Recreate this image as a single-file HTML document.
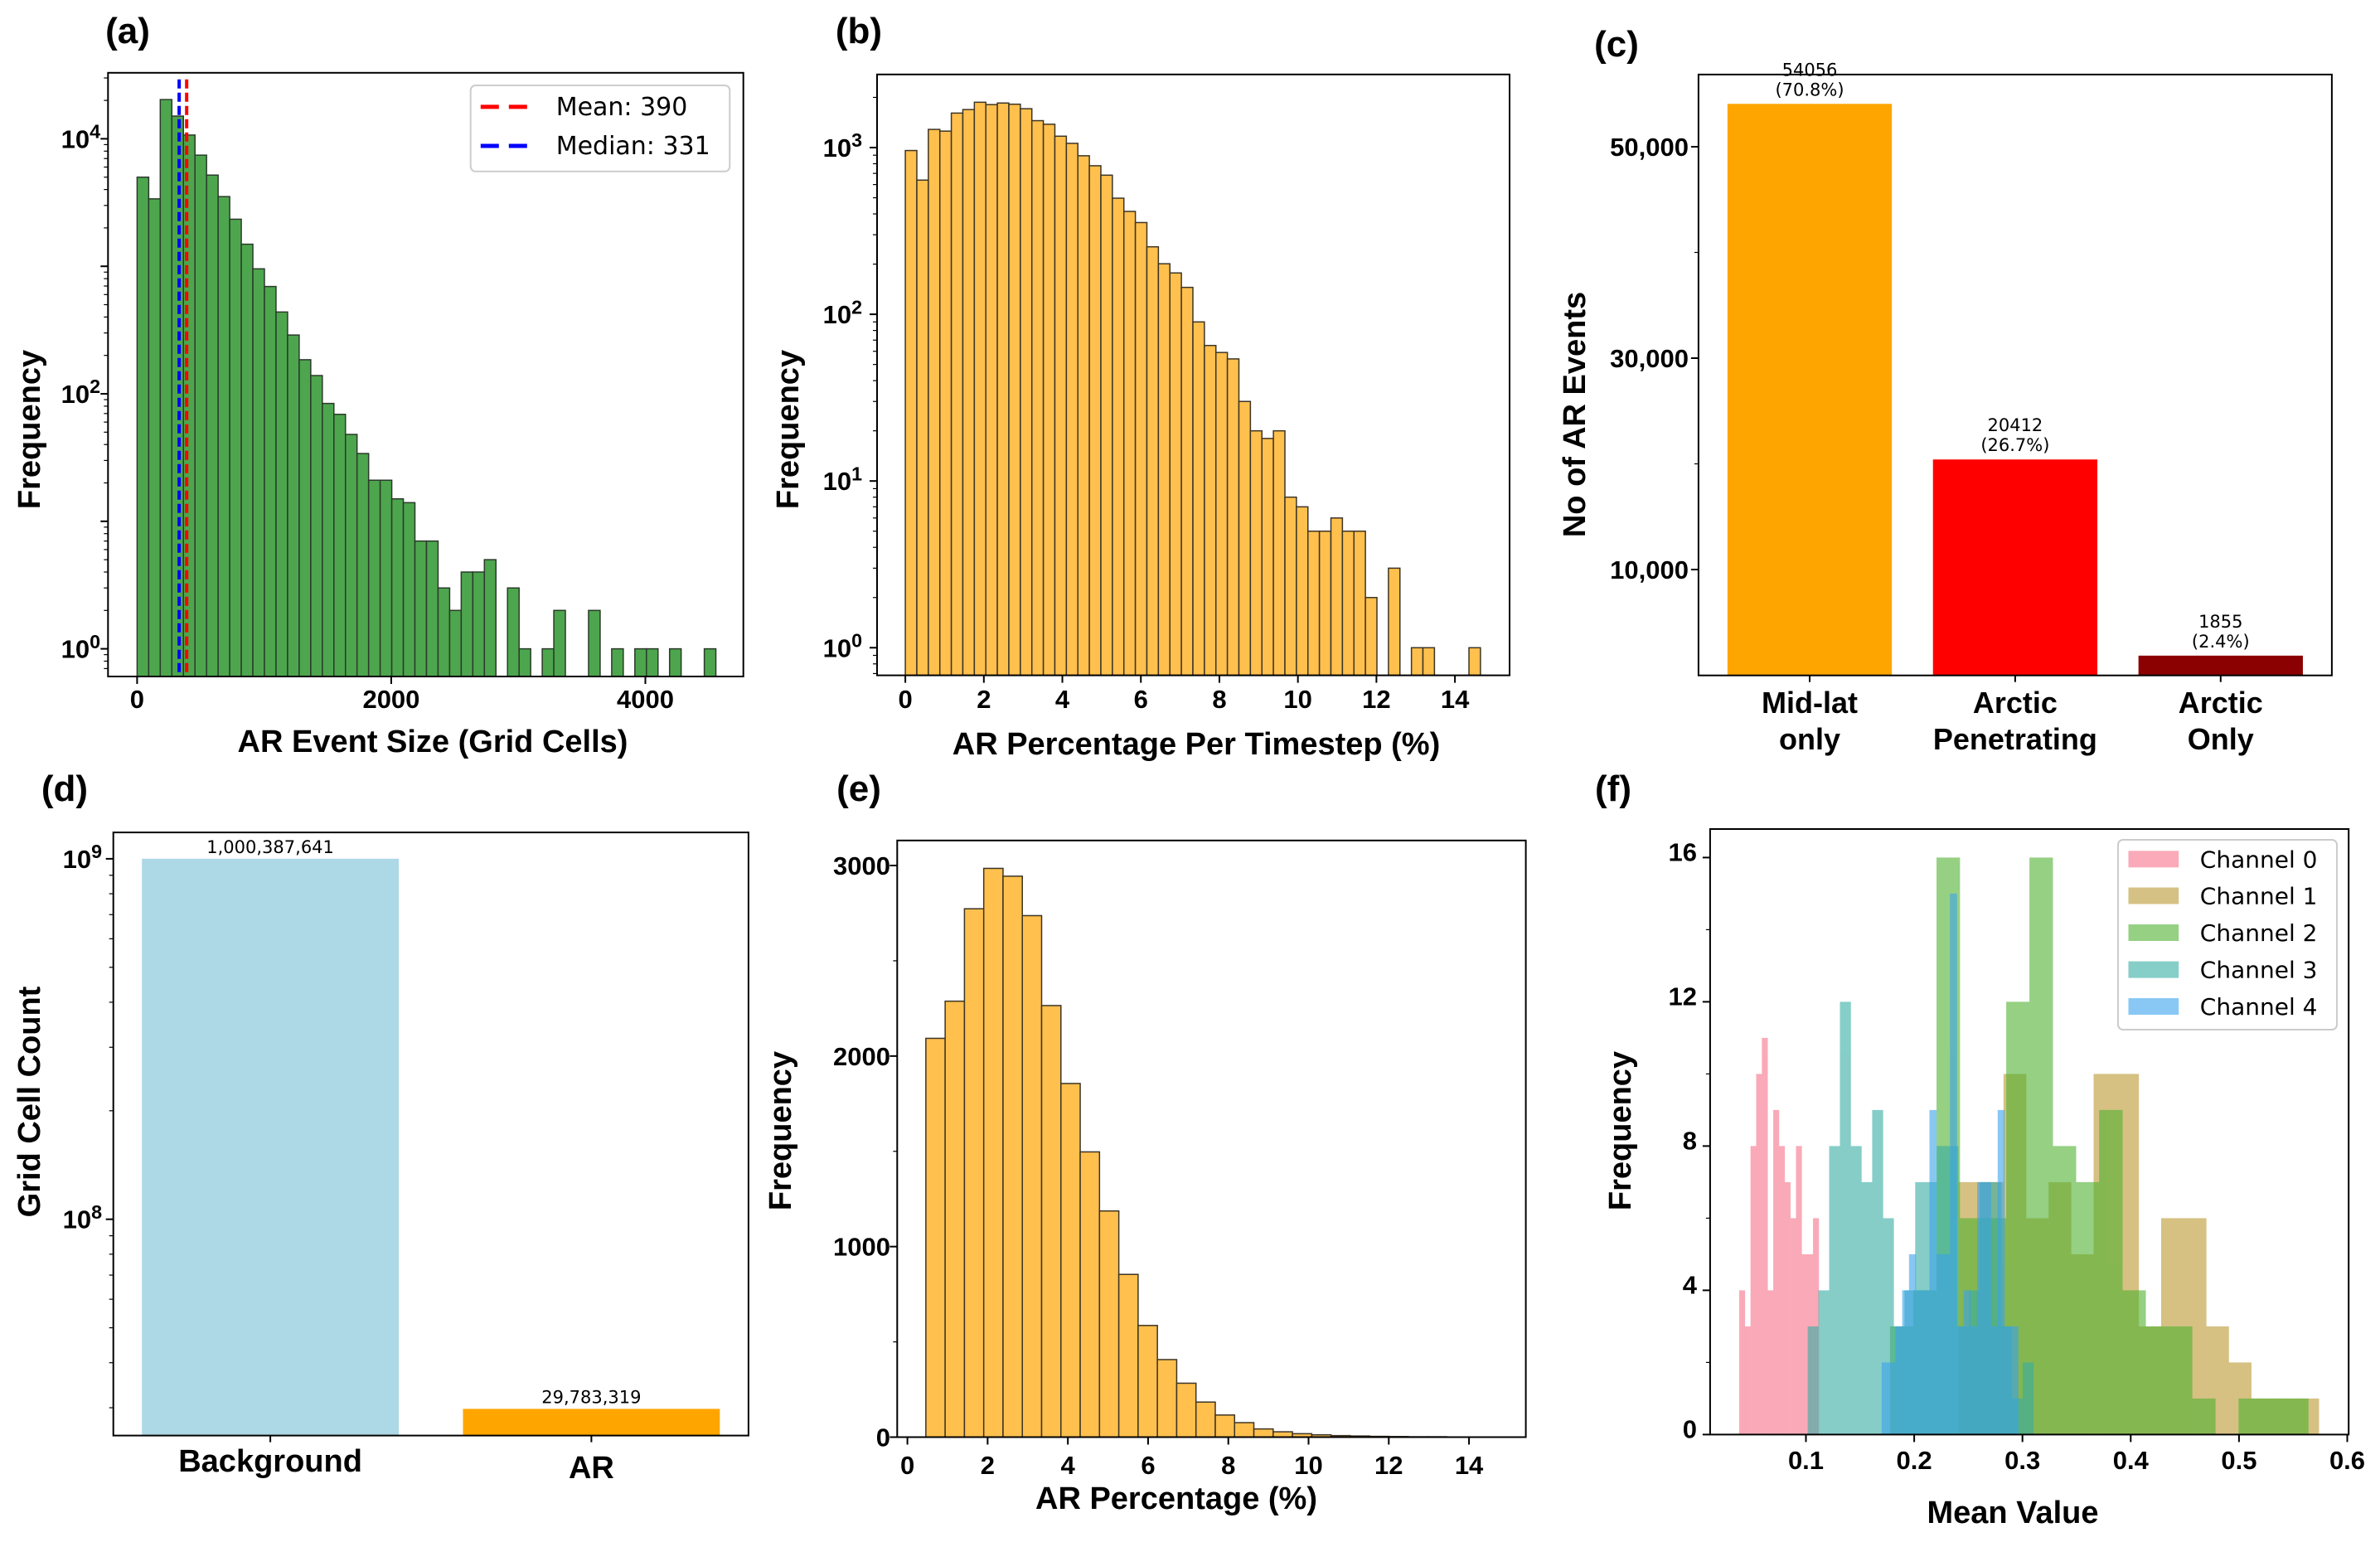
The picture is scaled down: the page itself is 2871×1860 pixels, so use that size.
<!DOCTYPE html>
<html><head><meta charset="utf-8"><style>
html,body{margin:0;padding:0;background:#fff;}
svg{display:block;}
</style></head><body>
<svg id="fig" xmlns="http://www.w3.org/2000/svg" width="2871" height="1860" viewBox="0 0 2871 1860"></svg>
<script>
// ---------- Data ----------
const aBinStart = 0, aBinWidth = 91.1;
const aCounts = [5000,3380,20300,15060,10700,7440,5190,3520,2340,1490,955,694,438,289,185,139,84,69,48,34,21,21,15,14,7,7,3,2,4,4,5,0,3,1,0,1,2,0,0,2,0,1,0,1,1,0,1,0,0,1];
const aXTicks = [0,2000,4000];
const aMean = 390, aMedian = 331;
const bBinStart = 0, bBinWidth = 0.293;
const bCounts = [960,638,1285,1255,1610,1690,1870,1810,1850,1820,1710,1450,1380,1170,1060,893,778,683,497,414,355,254,201,177,145,90,65,59,54,30,20,18,20,8,7,5,5,6,5,5,2,0,3,0,1,1,0,0,0,1];
const bXTicks = [0,2,4,6,8,10,12,14];
const cCategories = [["Mid-lat","only"],["Arctic","Penetrating"],["Arctic","Only"]];
const cValues = [54056,20412,1855];
const cPercent = ["(70.8%)","(26.7%)","(2.4%)"];
const cColors = ["#ffa500","#ff0000","#8b0000"];
const cYTicks = [10000,30000,50000];
const cYMinor = [20000,40000];
const dCategories = ["Background","AR"];
const dValues = [1000387641,29783319];
const dLabels = ["1,000,387,641","29,783,319"];
const eBinStart = 0.46, eBinWidth = 0.481;
const eCounts = [2093,2288,2773,2985,2944,2737,2265,1856,1497,1187,854,586,407,283,184,116,76,43,28,18,12,8,6,4,3,2,2,1,1,1];
const eXTicks = [0,2,4,6,8,10,12,14];
const eYTicks = [0,1000,2000,3000];
const fCh0Start = 0.0383, fCh0Width = 0.00525;
const fCh0 = [4,3,8,10,11,4,9,8,7,6,8,5,5,6];
const fCh1Start = 0.2409, fCh1Width = 0.0208;
const fCh1 = [7,7,10,6,7,5,10,10,3,6,6,3,2,1,1,1];
const fCh2Start = 0.1777, fCh2Width = 0.02146;
const fCh2 = [3,4,16,6,6,12,16,8,7,9,4,3,3,1,0,1,1,1];
const fCh3Start = 0.1016, fCh3Width = 0.00993;
const fCh3 = [3,4,8,12,8,7,9,6,3,4,7,7,8,8,3,4,7,7,3,1,2];
const fCh4Start = 0.170, fCh4Width = 0.0063;
const fCh4 = [2,2,3,4,5,4,4,9,5,5,15,3,4,3,7,7,3,9,3,3];
const fXTicks = [0.1,0.2,0.3,0.4,0.5,0.6];
const fYTicks = [0,4,8,12,16];

// ---------- Helpers ----------
const NS = "http://www.w3.org/2000/svg";
const svg = document.getElementById('fig');
function mk(tag, attrs, parent){
  const el = document.createElementNS(NS, tag);
  for (const k in attrs) el.setAttribute(k, attrs[k]);
  (parent||svg).appendChild(el);
  return el;
}
const SANS = '"Liberation Sans", "DejaVu Sans", sans-serif';
const DEJ = '"DejaVu Sans", "Liberation Sans", sans-serif';
function txt(x, y, s, size, weight, anchor, name, family, parent){
  const el = mk('text', {x:x, y:y, 'font-size':size, 'font-weight':weight, 'text-anchor':anchor, 'font-family':family||SANS, fill:'#000'}, parent);
  el.textContent = s;
  
  
  return el;
}
function supTxt(x, y, base, exp, size, name, parent){
  const el = mk('text', {x:x, y:y, 'font-size':size, 'font-weight':'bold', 'text-anchor':'end', 'font-family':SANS, fill:'#000'}, parent);
  
  
  const t1 = document.createElementNS(NS,'tspan'); t1.textContent = base; el.appendChild(t1);
  const t2 = document.createElementNS(NS,'tspan'); t2.textContent = exp;
  t2.setAttribute('dy', -size*0.38); t2.setAttribute('font-size', size*0.75); el.appendChild(t2);
  return el;
}
function line(x1,y1,x2,y2,stroke,w,parent){
  return mk('line',{x1:x1,y1:y1,x2:x2,y2:y2,stroke:stroke,'stroke-width':w},parent);
}
function frame(L,T,R,B,name){
  const r = mk('rect',{x:L,y:T,width:R-L,height:B-T,fill:'none',stroke:'#000','stroke-width':2});
  
  
}
function vtitle(x, y, s, name){
  const el = txt(x, y, s, 38, 'bold', 'middle', name);
  el.setAttribute('transform', 'rotate(-90 '+x+' '+y+')');
  return el;
}
function logMinor(g, L, yfun, lo, hi, name){
  for (let d = lo; d <= hi; d++){
    for (let m = 1; m <= 9; m++){
      const v = m*Math.pow(10,d);
      const y = yfun(v);
      if (y === null) continue;
      const t = line(L, y, L-(m===1?9:5), y, '#000', m===1?2:1.2, g);
      
      
    }
  }
}

// ---------- Panel (a) ----------
(function(){
  const L=130.3, R=896.7, T=87.8, B=816;
  const g = mk('g',{});  
  const xA = v => 165.4 + v*(778.5-165.4)/4000;
  const yA = c => { const y = 782.6 - Math.log10(c)*153.8; return (y<T||y>B)?null:y; };
  aCounts.forEach((c,i)=>{
    if (c<=0) return;
    const x0 = xA(aBinStart+i*aBinWidth), x1 = xA(aBinStart+(i+1)*aBinWidth);
    const y = Math.max(T, 782.6 - Math.log10(c)*153.8);
    const r = mk('rect',{x:x0,y:y,width:x1-x0,height:B-y,fill:'#4da64d',stroke:'#2b3a2b','stroke-width':1.5},g);
    
    
  });
  const dash = {'stroke-dasharray':'11,5'};
  const lm = mk('line',Object.assign({x1:xA(aMean),y1:T+8,x2:xA(aMean),y2:B,stroke:'#ff0000','stroke-width':4},dash),g);
  
  
  const ld = mk('line',Object.assign({x1:xA(aMedian),y1:T+8,x2:xA(aMedian),y2:B,stroke:'#0000ff','stroke-width':4},dash),g);
  
  
  frame(L,T,R,B,'axes-frame-a');
  aXTicks.forEach(v=>{
    const t=line(xA(v),B,xA(v),B+9,'#000',2,g);
     
    txt(xA(v), 854, String(v), 31, 'bold', 'middle', 'x-tick-label', SANS, g);
  });
  logMinor(g, L, yA, -1, 4, 'y-tick');
  [0,2,4].forEach(e=>supTxt(121, 782.6-e*153.8+11, '10', String(e), 31, 'y-tick-label', g));
  txt(522, 907, 'AR Event Size (Grid Cells)', 38, 'bold', 'middle', 'x-axis-title', SANS, g);
  vtitle(48, 518, 'Frequency', 'y-axis-title');
  txt(154, 52, '(a)', 44, 'bold', 'middle', 'panel-label-a', SANS, g);
  const lg = mk('g',{});  
  mk('rect',{x:567.7,y:103,width:312.6,height:103.8,rx:6,fill:'#fff','fill-opacity':0.85,stroke:'#cccccc','stroke-width':2},lg);
  const l1 = mk('line',{x1:579.8,y1:128.9,x2:636.2,y2:128.9,stroke:'#ff0000','stroke-width':5,'stroke-dasharray':'22,12'},lg);
   
  txt(670.7, 139, 'Mean: '+aMean, 30, 'normal', 'start', 'legend-mean', DEJ, lg);
  const l2 = mk('line',{x1:579.8,y1:176,x2:636.2,y2:176,stroke:'#0000ff','stroke-width':5,'stroke-dasharray':'22,12'},lg);
   
  txt(670.7, 186, 'Median: '+aMedian, 30, 'normal', 'start', 'legend-median', DEJ, lg);
})();

// ---------- Panel (b) ----------
(function(){
  const L=1058, R=1821, T=89.8, B=814.6;
  const g = mk('g',{});  
  const xB = v => 1092.1 + v*(1755.1-1092.1)/14;
  const yB = c => { const y = 781.3 - Math.log10(c)*201.1; return (y<T||y>B)?null:y; };
  bCounts.forEach((c,i)=>{
    if (c<=0) return;
    const x0 = xB(bBinStart+i*bBinWidth), x1 = xB(bBinStart+(i+1)*bBinWidth);
    const y = Math.max(T, 781.3 - Math.log10(c)*201.1);
    const r = mk('rect',{x:x0,y:y,width:x1-x0,height:B-y,fill:'#ffc04d',stroke:'#3d3526','stroke-width':1.5},g);
    
    
  });
  frame(L,T,R,B,'axes-frame-b');
  bXTicks.forEach(v=>{
    const t=line(xB(v),B,xB(v),B+9,'#000',2,g);
     
    txt(xB(v), 854, String(v), 31, 'bold', 'middle', 'x-tick-label', SANS, g);
  });
  logMinor(g, L, yB, -1, 3, 'y-tick');
  [0,1,2,3].forEach(e=>supTxt(1040, 781.3-e*201.1+11, '10', String(e), 31, 'y-tick-label', g));
  txt(1443, 910, 'AR Percentage Per Timestep (%)', 38, 'bold', 'middle', 'x-axis-title', SANS, g);
  vtitle(963, 518, 'Frequency', 'y-axis-title');
  txt(1036, 52, '(b)', 44, 'bold', 'middle', 'panel-label-b', SANS, g);
})();

// ---------- Panel (c) ----------
(function(){
  const L=2048.9, R=2812.9, T=89.9, B=814.7;
  const g = mk('g',{});  
  const yC = v => 814.5 - v*127.5/10000;
  const xC = i => 2183 + i*247.9;
  const bw = 0.8*247.9;
  cValues.forEach((v,i)=>{
    const r = mk('rect',{x:xC(i)-bw/2,y:yC(v),width:bw,height:B-yC(v),fill:cColors[i]},g);
    
    
    txt(xC(i), yC(v)-34, String(v), 21, 'normal', 'middle', 'bar-value-label', DEJ, g);
    txt(xC(i), yC(v)-10, cPercent[i], 21, 'normal', 'middle', 'bar-percent-label', DEJ, g);
    const t=line(xC(i),B,xC(i),B+8,'#000',2,g);
     
    txt(xC(i), 860, cCategories[i][0], 36, 'bold', 'middle', 'category-label', SANS, g);
    txt(xC(i), 904, cCategories[i][1], 36, 'bold', 'middle', 'category-label', SANS, g);
  });
  frame(L,T,R,B,'axes-frame-c');
  cYTicks.forEach(v=>{
    const t=line(L,yC(v),L-9,yC(v),'#000',2,g);
     
    txt(2037, yC(v)+11, v.toLocaleString('en-US'), 31, 'bold', 'end', 'y-tick-label', SANS, g);
  });
  cYMinor.forEach(v=>{
    const t=line(L,yC(v),L-5,yC(v),'#000',1.2,g);
     
  });
  vtitle(1912, 500, 'No of AR Events', 'y-axis-title');
  txt(1950, 68, '(c)', 44, 'bold', 'middle', 'panel-label-c', SANS, g);
})();

// ---------- Panel (d) ----------
(function(){
  const L=136.7, R=902.9, T=1004.1, B=1731.6;
  const g = mk('g',{});  
  const yDraw = v => 1470.7 - (Math.log10(v)-8)*434.8;
  const yD = v => { const y = yDraw(v); return (y<T||y>B)?null:y; };
  const xD = i => 326.1 + i*387.3;
  const bw = 0.8*387.3;
  const colors = ['#add8e6','#ffa500'];
  dValues.forEach((v,i)=>{
    const y = yDraw(v);
    const r = mk('rect',{x:xD(i)-bw/2,y:y,width:bw,height:B-y,fill:colors[i]},g);
    
    
    txt(xD(i), y-7, dLabels[i], 21, 'normal', 'middle', 'bar-value-label', DEJ, g);
    const t=line(xD(i),B,xD(i),B+8,'#000',2,g);
     
  });
  txt(xD(0), 1775, dCategories[0], 38, 'bold', 'middle', 'category-label', SANS, g);
  txt(xD(1), 1783, dCategories[1], 38, 'bold', 'middle', 'category-label', SANS, g);
  frame(L,T,R,B,'axes-frame-d');
  logMinor(g, L, yD, 7, 9, 'y-tick');
  [8,9].forEach(e=>supTxt(123, yDraw(Math.pow(10,e))+11, '10', String(e), 31, 'y-tick-label', g));
  vtitle(48, 1329, 'Grid Cell Count', 'y-axis-title');
  txt(78, 966, '(d)', 44, 'bold', 'middle', 'panel-label-d', SANS, g);
})();

// ---------- Panel (e) ----------
(function(){
  const L=1082.3, R=1840.6, T=1013.8, B=1733.5;
  const g = mk('g',{});  
  const xE = v => 1094.6 + v*48.39;
  const yE = c => 1733.5 - c*0.22983;
  eCounts.forEach((c,i)=>{
    const x0 = xE(eBinStart+i*eBinWidth), x1 = xE(eBinStart+(i+1)*eBinWidth);
    const r = mk('rect',{x:x0,y:yE(c),width:x1-x0,height:B-yE(c),fill:'#ffc04d',stroke:'#3d3526','stroke-width':1.5},g);
    
    
  });
  frame(L,T,R,B,'axes-frame-e');
  eXTicks.forEach(v=>{
    const t=line(xE(v),B,xE(v),B+9,'#000',2,g);
     
    txt(xE(v), 1778, String(v), 31, 'bold', 'middle', 'x-tick-label', SANS, g);
  });
  eYTicks.forEach(v=>{
    const t=line(L,yE(v),L-9,yE(v),'#000',2,g);
     
    txt(1074, yE(v)+11, String(v), 31, 'bold', 'end', 'y-tick-label', SANS, g);
  });
  [500,1500,2500].forEach(v=>{
    const t=line(L,yE(v),L-5,yE(v),'#000',1.2,g);
     
  });
  txt(1419, 1820, 'AR Percentage (%)', 38, 'bold', 'middle', 'x-axis-title', SANS, g);
  vtitle(954, 1364, 'Frequency', 'y-axis-title');
  txt(1036, 966, '(e)', 44, 'bold', 'middle', 'panel-label-e', SANS, g);
})();

// ---------- Panel (f) ----------
(function(){
  const L=2062.9, R=2833.2, T=1000, B=1730.4;
  const g = mk('g',{});  
  const xF = v => 2178.5 + (v-0.1)*1306;
  const yF = c => 1730.4 - c*43.5;
  const series = [
    {start:fCh0Start, w:fCh0Width, c:fCh0, col:'#f77189', name:'Channel 0'},
    {start:fCh1Start, w:fCh1Width, c:fCh1, col:'#bb9832', name:'Channel 1'},
    {start:fCh2Start, w:fCh2Width, c:fCh2, col:'#50b131', name:'Channel 2'},
    {start:fCh3Start, w:fCh3Width, c:fCh3, col:'#36ada4', name:'Channel 3'},
    {start:fCh4Start, w:fCh4Width, c:fCh4, col:'#3ba3ec', name:'Channel 4'}
  ];
  series.forEach((s,k)=>{
    const sg = mk('g',{opacity:0.6},g);
    
    
    s.c.forEach((c,i)=>{
      if (c<=0) return;
      const x0 = xF(s.start+i*s.w), x1 = xF(s.start+(i+1)*s.w);
      const r = mk('rect',{x:x0,y:yF(c),width:x1-x0+0.3,height:B-yF(c),fill:s.col},sg);
      
      
    });
  });
  frame(L,T,R,B,'axes-frame-f');
  fXTicks.forEach(v=>{
    const t=line(xF(v),B,xF(v),B+9,'#000',2,g);
     
    txt(xF(v), 1772, v.toFixed(1), 31, 'bold', 'middle', 'x-tick-label', SANS, g);
  });
  fYTicks.forEach(v=>{
    const t=line(L,yF(v),L-9,yF(v),'#000',2,g);
     
    txt(2047, yF(v)+4, String(v), 31, 'bold', 'end', 'y-tick-label', SANS, g);
  });
  [2,6,10,14].forEach(v=>{
    const t=line(L,yF(v),L-5,yF(v),'#000',1.2,g);
     
  });
  txt(2428, 1837, 'Mean Value', 38, 'bold', 'middle', 'x-axis-title', SANS, g);
  vtitle(1967, 1364, 'Frequency', 'y-axis-title');
  txt(1946, 966, '(f)', 44, 'bold', 'middle', 'panel-label-f', SANS, g);
  const lg = mk('g',{});  
  mk('rect',{x:2555,y:1013,width:264,height:229,rx:6,fill:'#fff','fill-opacity':0.85,stroke:'#cccccc','stroke-width':2},lg);
  const ys = [1036.3,1080.5,1125,1169.6,1214];
  series.forEach((s,k)=>{
    const p = mk('rect',{x:2567.5,y:ys[k]-10,width:60.7,height:20,fill:s.col,opacity:0.6},lg);
    
    
    txt(2653.8, ys[k]+10, s.name, 28, 'normal', 'start', 'legend-entry', DEJ, lg);
  });
})();
</script>
</body></html>
